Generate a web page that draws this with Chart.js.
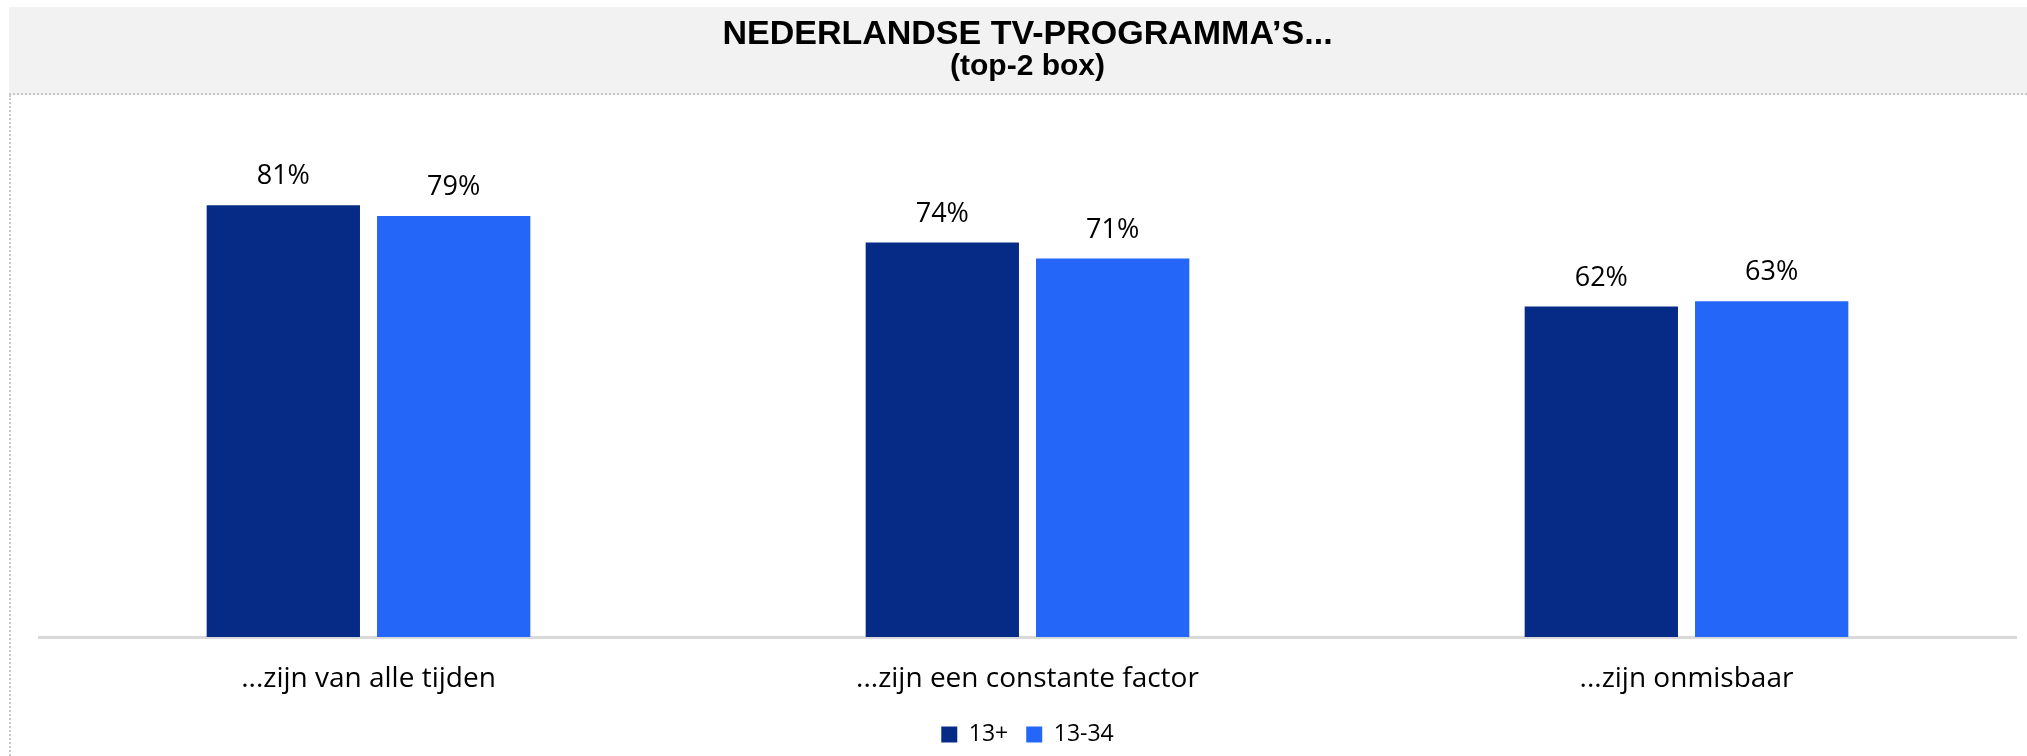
<!DOCTYPE html>
<html>
<head>
<meta charset="utf-8">
<script src="https://cdn.jsdelivr.net/npm/chart.js@4.4.1/dist/chart.umd.min.js"></script>
<style>
  html, body { margin: 0; padding: 0; background: #fff; }
  #wrap { position: relative; width: 2027px; height: 756px; overflow: hidden; }
  #band {
    position: absolute; left: 9px; top: 7px; right: 0; height: 86px;
    background: #f2f2f2; border-bottom: 2px dotted #c8c8c8;
  }
  #side {
    position: absolute; left: 9px; top: 95px; bottom: 0; width: 0;
    border-left: 2px dotted #c8c8c8;
  }
  canvas { position: absolute; left: 0; top: 0; }
</style>
</head>
<body>
<div id="wrap">
  <div id="band"></div>
  <div id="side"></div>
  <canvas id="chart" width="2027" height="756"></canvas>
</div>
<script>
const categories = ['...zijn van alle tijden', '...zijn een constante factor', '...zijn onmisbaar'];
const seriesNames = ['13+', '13-34'];
const values13plus = [81, 74, 62];
const values1334 = [79, 71, 63];
const colors = ['#062b87', '#2366f8'];

const labelFont = '"Open Sans", sans-serif';

// percentages above the bars
const valueLabels = {
  id: 'valueLabels',
  afterDatasetsDraw(chart) {
    const ctx = chart.ctx;
    ctx.save();
    ctx.font = '27px ' + labelFont;
    ctx.fillStyle = '#000';
    ctx.textAlign = 'center';
    ctx.textBaseline = 'alphabetic';
    chart.data.datasets.forEach((ds, i) => {
      chart.getDatasetMeta(i).data.forEach((bar, j) => {
        ctx.fillText(ds.data[j] + '%', bar.x, bar.y - 21);
      });
    });
    ctx.restore();
  }
};

new Chart(document.getElementById('chart'), {
  type: 'bar',
  data: {
    labels: categories,
    datasets: [
      { label: seriesNames[0], data: values13plus, backgroundColor: colors[0] },
      { label: seriesNames[1], data: values1334, backgroundColor: colors[1] }
    ]
  },
  options: {
    responsive: false,
    animation: false,
    layout: { padding: { left: 39, right: 11, top: 0, bottom: 0 } },
    datasets: { bar: { categoryPercentage: 0.517, barPercentage: 0.9 } },
    scales: {
      x: {
        grid: { display: false },
        border: { color: '#d9d9d9', width: 3 },
        ticks: { color: '#000', padding: 17, font: { family: labelFont, size: 28 } },
        afterFit(scale) { scale.height = 68; }
      },
      y: { display: false, min: 0, max: 100 }
    },
    plugins: {
      title: {
        display: true,
        text: 'NEDERLANDSE TV-PROGRAMMA’S...',
        color: '#000',
        font: { family: '"Liberation Sans", Arial, sans-serif', weight: 'bold', size: 34, lineHeight: 1 },
        padding: { top: 18, bottom: 0 }
      },
      subtitle: {
        display: true,
        text: '(top-2 box)',
        color: '#000',
        font: { family: '"Liberation Sans", Arial, sans-serif', weight: 'bold', size: 30, lineHeight: 1 },
        padding: { top: 0, bottom: 22 }
      },
      legend: {
        position: 'bottom',
        labels: {
          color: '#000',
          boxWidth: 16, boxHeight: 16, padding: 18,
          font: { family: labelFont, size: 23 }
        }
      },
      tooltip: { enabled: false }
    }
  },
  plugins: [valueLabels]
});
</script>
</body>
</html>
